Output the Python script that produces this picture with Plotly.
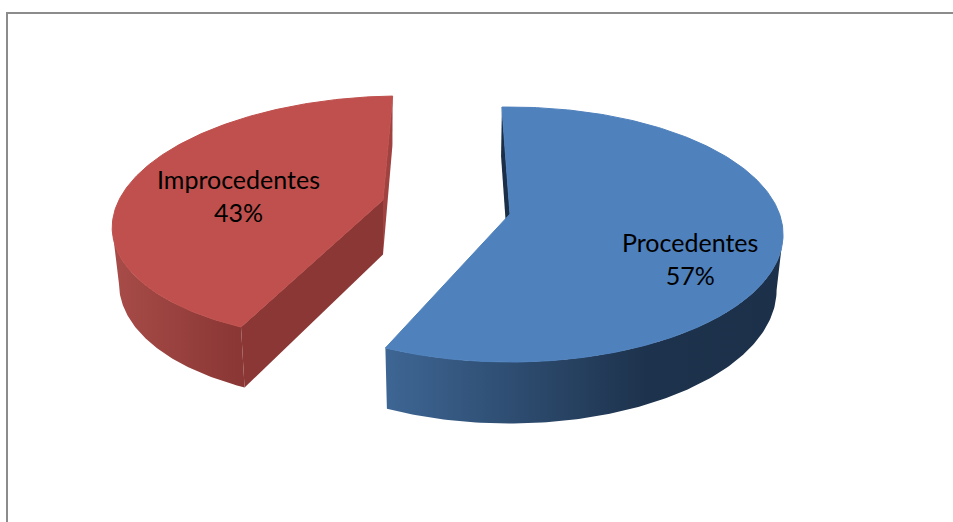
import numpy as np
import plotly.graph_objects as go

categories = ["Procedentes", "Improcedentes"]
values = [57, 43]
top_colors = ["#4f81bd", "#bf504d"]
wall_stops = [
    [[0, "#3e6694"], [0.66, "#1d324c"], [1, "#1c304a"]],
    [[0, "#a84c48"], [0.95, "#8a3735"], [1, "#8a3735"]],
]
inner_colors = ["#1c3350", "#8a3735"]
back_colors = ["#1b3048", "#a04240"]

ROTATION = -2.0
# per-slice projection: apex x, apex y, radius, y scale, tilt, shear, wall x scale, wall x shift
PROJ = [
    dict(cx=510, cy=214, r=269.5, s=124.2, k=0.161, shear=0.0, wx=0.98, wd=-1.0),
    dict(cx=383, cy=200, r=264, s=119.4, k=0.148, shear=-0.17, wx=0.975, wd=0.0),
]
LABEL_POS = [(690, 258.5), (238, 195)]


def project(theta, radius, p, wall=False):
    th = np.radians(theta)
    ux, uy = radius * np.sin(th), radius * np.cos(th)
    w = 1 + p["k"] * uy
    X = p["r"] * ux / w
    Y = -p["s"] * uy / w
    X = X + p["shear"] * Y
    if wall:
        return p["cx"] + p["wx"] * X + p["wd"], p["cy"] + Y + 54.5 + 0.047 * Y
    return p["cx"] + X, p["cy"] + Y


def poly(fig, xs, ys, line=None, **kw):
    fig.add_trace(go.Scatter(x=list(xs) + [xs[0]], y=list(ys) + [ys[0]], mode="lines",
                             fill="toself", line=line or dict(width=0), hoverinfo="skip",
                             showlegend=False, **kw))


fig = go.Figure()
total = sum(values)
start = ROTATION
spans = []
for v in values:
    spans.append((start, start + 360 * v / total))
    start += 360 * v / total

for i, (a, b) in enumerate(spans):
    p = PROJ[i]
    th = np.linspace(a, b, 240)
    tx, ty = project(th, 1, p)
    wx, wy = project(th, 1, p, wall=True)
    ax, ay = project(np.array([a]), 0, p)
    awx, awy = project(np.array([a]), 0, p, wall=True)

    # cut face at the back
    j = 0 if i == 0 else -1
    poly(fig, [tx[j], wx[j], awx[0], ax[0]], [ty[j], wy[j], awy[0], ay[0]],
         fillcolor=back_colors[i])
    # cut face at the front (only the red slice shows it)
    if i == 1:
        poly(fig, [tx[0], wx[0], awx[0], ax[0]], [ty[0], wy[0], awy[0], ay[0]],
             fillcolor=inner_colors[i])
    # curved wall: only the front part, from the outermost point of the rim to the cut
    if i == 0:
        m = int(np.argmax(tx))
        fx, fy = np.r_[tx[m:], wx[m:][::-1]], np.r_[ty[m:], wy[m:][::-1]]
    else:
        m = int(np.argmin(tx))
        fx, fy = np.r_[tx[:m + 1], wx[:m + 1][::-1]], np.r_[ty[:m + 1], wy[:m + 1][::-1]]
    poly(fig, fx, fy, fillgradient=dict(type="horizontal", colorscale=wall_stops[i]))
    # top face
    poly(fig, np.r_[ax, tx], np.r_[ay, ty], fillcolor=top_colors[i],
         line=dict(width=1, color=top_colors[i]))

annotations = []
for name, v, (lx, ly) in zip(categories, values, LABEL_POS):
    annotations.append(dict(x=lx, y=ly, xref="x", yref="y", showarrow=False, align="center",
                            text=f"{name}<br>{round(100 * v / total)}%",
                            font=dict(family="Lato", size=25, color="#000000")))

frame = dict(color="#8c8c8c", width=2)
fig.update_layout(
    width=953, height=522, margin=dict(l=0, r=0, t=0, b=0),
    paper_bgcolor="#ffffff", plot_bgcolor="#ffffff",
    xaxis=dict(range=[0, 953], visible=False, fixedrange=True),
    yaxis=dict(range=[522, 0], visible=False, fixedrange=True),
    annotations=annotations,
    shapes=[
        dict(type="line", x0=6, x1=953, y0=13, y1=13, line=frame),
        dict(type="line", x0=7, x1=7, y0=13, y1=522, line=frame),
    ],
)
fig.write_html("out.html", config={"displayModeBar": False},
               post_script="document.body.style.margin='0';document.body.style.overflow='hidden';")
